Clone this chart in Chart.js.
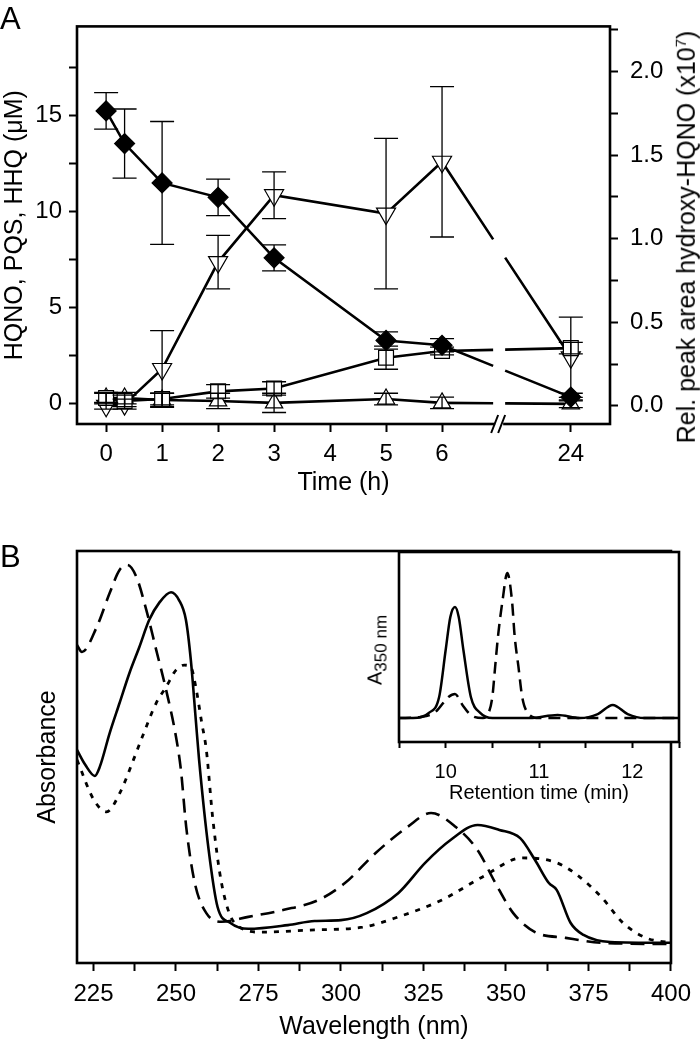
<!DOCTYPE html>
<html>
<head>
<meta charset="utf-8">
<script src="https://cdn.jsdelivr.net/npm/chart.js@4.4.1/dist/chart.umd.min.js"></script>
<style>
  html, body { margin: 0; padding: 0; background: #fff; }
  #wrap { position: relative; width: 700px; height: 1043px; overflow: hidden;
          font-family: "Liberation Sans", Arial, sans-serif; color: #000; }
  canvas { position: absolute; }
  .lbl { position: absolute; white-space: nowrap; line-height: 1; }
  .rot { transform: translate(-50%, -50%) rotate(-90deg); }
</style>
</head>
<body>
<div id="wrap">
  <canvas id="cA" width="700" height="500" style="left:0;top:0"></canvas>
  <canvas id="cB" width="700" height="543" style="left:0;top:500px"></canvas>
  <canvas id="cI" width="360" height="270" style="left:340px;top:540px"></canvas>

  <div class="lbl" style="left:0;top:3px;font-size:31px">A</div>
  <div class="lbl" style="left:0;top:541px;font-size:31px">B</div>
  <div class="lbl rot" style="left:686px;top:237px;font-size:25px">Rel. peak area hydroxy-HQNO (x10<sup style="font-size:15px">7</sup>)</div>
  <div class="lbl rot" style="left:377px;top:650px;font-size:20px">A<sub style="font-size:17px">350 nm</sub></div>
</div>

<script>
// ---- Panel A: time course ----
const times = [0, 0.33, 1, 2, 3, 5, 6, 24];
const timeTicks = [0, 1, 2, 3, 4, 5, 6, 24];

const hqno = [15.25, 13.55, 11.5, 10.75, 7.6, 3.3, 3.05, 0.35];
const hqnoErr = [0.95, 1.8, 3.2, 0.95, 0.68, 0.45, 0.35, 0.2];

const hydroxyHqno = [0.0, 0.01, 0.22, 0.86, 1.26, 1.15, 1.46, 0.29];
const hydroxyErr = [0.02, 0.03, 0.23, 0.16, 0.14, 0.45, 0.45, 0.24];

const squareVals = [0.3, 0.15, 0.25, 0.65, 0.8, 2.4, 2.75, 2.9];
const squareErr = [0.25, 0.3, 0.3, 0.35, 0.35, 0.6, 0.2, 0.3];

const triVals = [0.3, 0.3, 0.2, 0.15, 0.05, 0.25, 0.05, 0.0];
const triErr = [0.3, 0.3, 0.35, 0.4, 0.5, 0.3, 0.3, 0.2];

const leftTicks = [0, 2.5, 5, 7.5, 10, 12.5, 15, 17.5];
const rightTicks = [0, 0.25, 0.5, 0.75, 1, 1.25, 1.5, 1.75, 2, 2.25];

// ---- Panel B: UV spectra ----
const wlTicks = [225, 237.5, 250, 262.5, 275, 287.5, 300, 312.5, 325, 337.5, 350, 362.5, 375, 387.5, 400];

const solidWl = [220, 222.5, 225.4, 226.9, 229.9, 232.9, 235.9, 238.9, 241.9, 244.9, 248.5, 250.9, 253, 254.5, 256, 257, 259.9, 262.6, 266.5, 271.9, 283.9, 292, 300, 307.8, 317.4, 325.5, 333.3, 341.4, 348, 354.3, 358.8, 363, 365.4, 369.6, 373.5, 381.6, 400];
const solidAbs = [0.517, 0.481, 0.454, 0.476, 0.558, 0.631, 0.704, 0.767, 0.833, 0.874, 0.900, 0.881, 0.833, 0.735, 0.590, 0.493, 0.274, 0.136, 0.097, 0.083, 0.092, 0.102, 0.104, 0.121, 0.170, 0.243, 0.299, 0.335, 0.323, 0.303, 0.250, 0.194, 0.177, 0.097, 0.068, 0.051, 0.049];

const dashedWl = [220, 221.5, 226, 229.9, 232.9, 235.3, 238, 241, 244, 247, 250, 251.5, 253.1, 255.7, 259.2, 263.8, 271.9, 282.7, 293.2, 301.2, 310.5, 320.1, 327.3, 334.8, 341.4, 346.8, 352.2, 358.8, 368.1, 378.9, 400];
const dashedAbs = [0.772, 0.755, 0.816, 0.898, 0.954, 0.966, 0.937, 0.857, 0.760, 0.663, 0.549, 0.468, 0.330, 0.194, 0.121, 0.100, 0.112, 0.129, 0.153, 0.194, 0.267, 0.330, 0.364, 0.330, 0.274, 0.194, 0.121, 0.075, 0.061, 0.049, 0.046];

const dottedWl = [220, 225.1, 229, 233, 237.1, 239.8, 244, 247, 250, 252.5, 254.5, 256, 257.8, 259.2, 261.1, 263.8, 267.8, 275.8, 290.6, 306.6, 317.4, 330.6, 342.9, 354.9, 365.5, 372.3, 378.9, 385.5, 392.4, 400];
const dottedAbs = [0.493, 0.396, 0.367, 0.413, 0.493, 0.549, 0.631, 0.670, 0.711, 0.723, 0.718, 0.670, 0.583, 0.517, 0.354, 0.194, 0.097, 0.075, 0.080, 0.087, 0.112, 0.153, 0.209, 0.255, 0.243, 0.209, 0.160, 0.097, 0.061, 0.049];

// ---- Inset: HPLC traces ----
const rtTicks = [9.5, 10, 10.5, 11, 11.5, 12, 12.5];
const insetSolidT = [9.5, 9.65, 9.82, 9.93, 10.0, 10.05, 10.1, 10.14, 10.19, 10.27, 10.37, 10.5, 10.9, 11.2, 11.44, 11.63, 11.79, 11.95, 12.13, 12.5];
const insetSolidA = [0.126, 0.126, 0.153, 0.237, 0.484, 0.658, 0.711, 0.658, 0.484, 0.237, 0.153, 0.126, 0.126, 0.142, 0.126, 0.147, 0.195, 0.147, 0.126, 0.126];
const insetDashT = [9.5, 9.73, 9.89, 10.03, 10.1, 10.18, 10.27, 10.4, 10.46, 10.5, 10.53, 10.56, 10.61, 10.66, 10.71, 10.74, 10.78, 10.82, 10.88, 11.0, 12.5];
const insetDashA = [0.126, 0.132, 0.158, 0.237, 0.253, 0.195, 0.142, 0.126, 0.153, 0.237, 0.395, 0.553, 0.747, 0.889, 0.747, 0.553, 0.395, 0.237, 0.153, 0.126, 0.126];

Chart.defaults.font.family = '"Liberation Sans", Arial, sans-serif';
Chart.defaults.color = '#000';
Chart.defaults.animation = false;

// broken time axis: 24 h sits after the break
const POS_24 = 8.3;
const BREAK_AT = 7.02;
const GAP = 12;
const axisPos = t => (t > 6 ? POS_24 : t);

function xy(xs, ys) { return xs.map((x, i) => ({ x, y: ys[i] })); }

// leave a hole in the line where it crosses the axis break
function breakDash(ctx) {
  const a = ctx.p0, b = ctx.p1;
  const bx = ctx.chart.scales.x.getPixelForValue(BREAK_AT);
  if (!(a.x < bx && b.x > bx)) return undefined;
  const dx = b.x - a.x;
  const L = Math.hypot(dx, b.y - a.y);
  const k = L / dx;
  const d = (bx - a.x) * k, g = GAP * k;
  return [d - g / 2, g, L];
}

const frame = {
  id: 'frame',
  afterDraw(chart, args, o) {
    const { ctx, chartArea: { left, top, right, bottom } } = chart;
    ctx.save();
    ctx.strokeStyle = '#000';
    ctx.lineWidth = o.width || 2.6;
    ctx.lineCap = 'square';
    ctx.strokeRect(left, top, right - left, bottom - top);
    if (o.breakAt != null) {
      const bx = chart.scales.x.getPixelForValue(o.breakAt);
      ctx.fillStyle = '#fff';
      ctx.fillRect(bx - 4, bottom - 3, 8, 6);
      ctx.lineWidth = 2;
      ctx.lineCap = 'butt';
      ctx.beginPath();
      ctx.moveTo(bx - 8, bottom + 9); ctx.lineTo(bx - 1, bottom - 9);
      ctx.moveTo(bx - 1, bottom + 9); ctx.lineTo(bx + 6, bottom - 9);
      ctx.stroke();
    }
    ctx.restore();
  }
};

const errorBars = {
  id: 'errorBars',
  afterDatasetsDraw(chart) {
    const { ctx } = chart;
    chart.data.datasets.forEach((ds, i) => {
      if (!ds.errors) return;
      const meta = chart.getDatasetMeta(i);
      const ys = chart.scales[meta.yAxisID];
      ctx.save();
      ctx.strokeStyle = '#000';
      ctx.lineWidth = 1.3;
      meta.data.forEach((pt, j) => {
        const e = ds.errors[j];
        if (!e) return;
        const v = ds.data[j].y;
        const t = ys.getPixelForValue(v + e), b = ys.getPixelForValue(v - e);
        ctx.beginPath();
        ctx.moveTo(pt.x, t); ctx.lineTo(pt.x, b);
        ctx.moveTo(pt.x - 12, t); ctx.lineTo(pt.x + 12, t);
        ctx.moveTo(pt.x - 12, b); ctx.lineTo(pt.x + 12, b);
        ctx.stroke();
      });
      ctx.restore();
    });
  }
};

const tickGrid = (len) => ({ drawOnChartArea: false, drawTicks: true, tickLength: len, tickWidth: 2, tickColor: '#000' });

function seriesA(vals, errs, extra) {
  return Object.assign({
    data: xy(times.map(axisPos), vals),
    errors: errs,
    borderColor: '#000',
    borderWidth: 2.6,
    tension: 0,
    pointRadius: 10,
    pointBorderWidth: 1.2,
    pointBorderColor: '#000',
    pointBackgroundColor: '#fff',
    segment: { borderDash: breakDash },
  }, extra);
}

new Chart(document.getElementById('cA'), {
  type: 'line',
  data: {
    datasets: [
      seriesA(hqno, hqnoErr, { pointStyle: 'rectRot', pointBackgroundColor: '#000', pointRadius: 10, yAxisID: 'y' }),
      seriesA(squareVals, squareErr, { pointStyle: 'rect', pointRadius: 10.5, yAxisID: 'y' }),
      seriesA(triVals, triErr, { pointStyle: 'triangle', pointRadius: 10, yAxisID: 'y' }),
      seriesA(hydroxyHqno, hydroxyErr, { pointStyle: 'triangle', pointRotation: 180, pointRadius: 11, yAxisID: 'y1' }),
    ]
  },
  options: {
    responsive: false,
    layout: { padding: { top: 10, left: 0, right: 0, bottom: 0 } },
    plugins: { legend: { display: false }, tooltip: { enabled: false }, frame: { breakAt: BREAK_AT } },
    scales: {
      x: {
        type: 'linear', min: -0.52, max: 9.0,
        afterFit: s => { s.height = 76; },
        afterBuildTicks: s => { s.ticks = timeTicks.map(t => ({ value: axisPos(t) })); },
        ticks: { autoSkip: false, maxRotation: 0, padding: 8, font: { size: 24 },
                 callback: (v, i) => String(timeTicks[i]) },
        grid: tickGrid(8), border: { display: false },
        title: { display: true, text: 'Time (h)', font: { size: 25 }, padding: { top: 0, bottom: 2 } }
      },
      y: {
        position: 'left', min: -1.05, max: 19.65,
        afterFit: s => { s.width = 77; },
        afterBuildTicks: s => { s.ticks = leftTicks.map(v => ({ value: v })); },
        ticks: { autoSkip: false, padding: 7, font: { size: 24 },
                 callback: v => (v % 5 === 0 ? String(v) : '') },
        grid: tickGrid(8), border: { display: false },
        title: { display: true, text: 'HQNO, PQS, HHQ (μM)', font: { size: 25 }, padding: { top: 0, bottom: 0 } }
      },
      y1: {
        position: 'right', min: -0.109, max: 2.27,
        afterFit: s => { s.width = 90; },
        afterBuildTicks: s => { s.ticks = rightTicks.map(v => ({ value: v })); },
        ticks: { autoSkip: false, padding: 12, font: { size: 24 },
                 callback: v => (Math.abs(v * 2 - Math.round(v * 2)) < 1e-6 ? v.toFixed(1) : '') },
        grid: tickGrid(8), border: { display: false }
      }
    }
  },
  plugins: [errorBars, frame]
});

function spectrum(xs, ys, dash, width) {
  return {
    data: xy(xs, ys),
    borderColor: '#000',
    borderWidth: width || 2.6,
    borderDash: dash,
    pointRadius: 0,
    cubicInterpolationMode: 'monotone',
    fill: false
  };
}

new Chart(document.getElementById('cB'), {
  type: 'line',
  data: {
    datasets: [
      spectrum(solidWl, solidAbs, []),
      spectrum(dashedWl, dashedAbs, [14, 8]),
      spectrum(dottedWl, dottedAbs, [5, 7], 2.8),
    ]
  },
  options: {
    responsive: false,
    layout: { padding: { top: 51, left: 0, right: 22, bottom: 0 } },
    plugins: { legend: { display: false }, tooltip: { enabled: false }, frame: {} },
    scales: {
      x: {
        type: 'linear', min: 220, max: 400,
        afterFit: s => { s.height = 80; },
        afterBuildTicks: s => { s.ticks = wlTicks.map(v => ({ value: v })); },
        ticks: { autoSkip: false, maxRotation: 0, padding: 9, font: { size: 24 },
                 callback: v => (v % 25 === 0 ? String(v) : '') },
        grid: tickGrid(8), border: { display: false },
        title: { display: true, text: 'Wavelength (nm)', font: { size: 25 }, padding: { top: 0, bottom: 1 } }
      },
      y: {
        min: 0, max: 1,
        afterFit: s => { s.width = 77; },
        ticks: { display: false },
        grid: { display: false }, border: { display: false },
        title: { display: true, text: 'Absorbance', font: { size: 25 }, padding: { top: 33, bottom: 0 } }
      }
    }
  },
  plugins: [frame]
});

const insetBg = {
  id: 'insetBg',
  beforeDatasetsDraw(chart) {
    const { ctx, chartArea: { left, top, right, bottom } } = chart;
    ctx.save(); ctx.fillStyle = '#fff'; ctx.fillRect(left, top, right - left, bottom - top); ctx.restore();
  }
};

new Chart(document.getElementById('cI'), {
  type: 'line',
  data: {
    datasets: [
      spectrum(insetSolidT, insetSolidA, [], 2.5),
      spectrum(insetDashT, insetDashA, [12, 7], 2.5),
    ]
  },
  options: {
    responsive: false,
    layout: { padding: { top: 12, left: 0, right: 21, bottom: 0 } },
    plugins: { legend: { display: false }, tooltip: { enabled: false }, frame: { width: 2.6 } },
    scales: {
      x: {
        type: 'linear', min: 9.5, max: 12.5,
        afterFit: s => { s.height = 68; },
        afterBuildTicks: s => { s.ticks = rtTicks.map(v => ({ value: v })); },
        ticks: { autoSkip: false, maxRotation: 0, padding: 12, font: { size: 20 },
                 callback: v => (v % 1 === 0 ? String(v) : '') },
        grid: tickGrid(6), border: { display: false },
        title: { display: true, text: 'Retention time (min)', font: { size: 20 }, padding: { top: 0, bottom: 5 } }
      },
      y: {
        min: 0, max: 1,
        afterFit: s => { s.width = 59; },
        ticks: { display: false },
        grid: { display: false }, border: { display: false }
      }
    }
  },
  plugins: [insetBg, frame]
});
</script>
</body>
</html>
